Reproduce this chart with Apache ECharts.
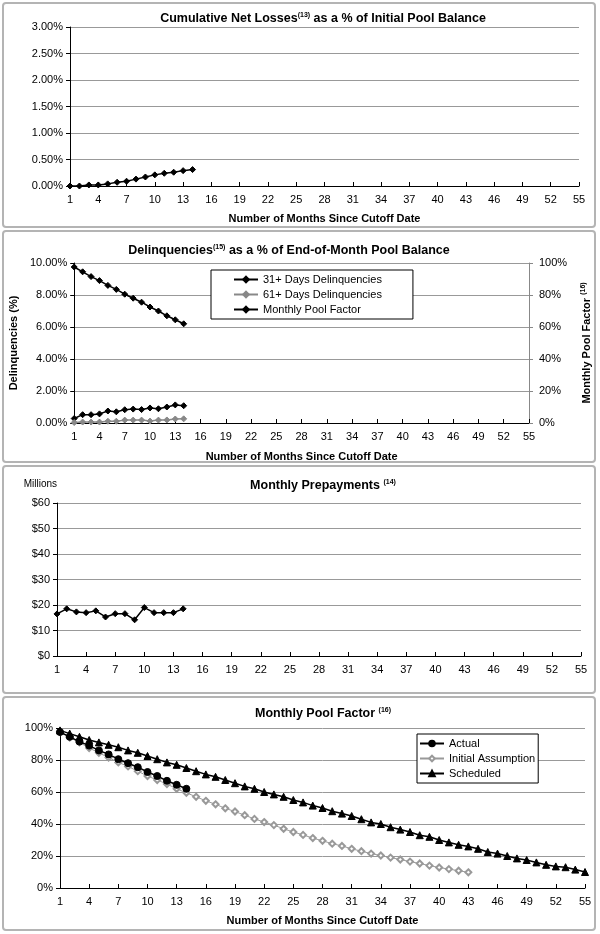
<!DOCTYPE html>
<html><head><meta charset="utf-8">
<script src="https://cdn.jsdelivr.net/npm/echarts@6/dist/echarts.min.js"></script>
<style>html,body{margin:0;padding:0;background:#fff}#c{width:600px;height:934px}</style>
</head><body><div id="c"></div>
<script>
const months = ['1','2','3','4','5','6','7','8','9','10','11','12','13','14','15','16','17','18','19','20',
  '21','22','23','24','25','26','27','28','29','30','31','32','33','34','35','36','37','38','39','40',
  '41','42','43','44','45','46','47','48','49','50','51','52','53','54','55'];

const cumNetLoss = [0.00,0.00,0.02,0.02,0.04,0.07,0.09,0.13,0.17,0.21,0.24,0.26,0.29,0.31];
const delinq31 = [0.28,0.52,0.52,0.57,0.75,0.70,0.83,0.87,0.84,0.94,0.89,1.00,1.13,1.08];
const delinq61 = [0.03,0.06,0.06,0.06,0.11,0.11,0.18,0.18,0.18,0.12,0.18,0.19,0.25,0.26];
const poolFactor = [97.5,94.5,91.5,89,86,83.5,80.5,78,75.5,72.5,70,67,64.5,62];
const prepayments = [16.5,18.5,17.3,17.0,17.7,15.3,16.6,16.6,14.2,19.0,17.0,17.0,17.0,18.5];
const initialAssumption = [97.5,94,91,87.5,84.5,81.5,78.5,76,73,70,67.5,65,62,59.5,57,54.5,52.3,49.8,47.8,45.5,
  43.2,41.2,39.3,37,35,33.2,31.2,29.5,27.7,26.3,24.5,23,21.5,20.3,19,17.8,16.5,15.3,14,12.8,11.8,10.8,9.8];
const scheduled = [98.5,96.5,94.5,92.5,91,89.5,88,86,84.5,82.5,80.5,78.5,77,75,73,71,69.5,67.5,65.5,63.5,
  62,60,58.5,57,55,53.5,51.5,50,48,46.5,45,43,41,40,38,36.5,35,33,32,30,
  28.5,27,26,24.5,22.5,21.5,20,18.5,17.5,16,14.5,13.5,13,11.5,10];

const FONT = "'Liberation Sans', Arial, sans-serif";
const sup = {fontSize: 7, fontWeight: 'bold', fontFamily: FONT, padding: [0,0,6,0]};

function title(text, x, y) {
  return {text, left: x, top: y, textAlign: 'center', padding: 0,
    textStyle: {fontSize: 12.5, fontWeight: 'bold', fontFamily: FONT, color: '#000', rich: {s: sup}}};
}
function xAx(grid, name, gap) {
  return {type: 'category', gridIndex: grid, data: months, boundaryGap: false,
    axisLine: {lineStyle: {color: '#000', width: 1}},
    axisTick: {interval: 2, inside: true, length: 4, lineStyle: {color: '#000'}},
    axisLabel: {interval: 2, fontSize: 11, color: '#000', fontFamily: FONT, margin: 8},
    splitLine: {show: false},
    name: name, nameLocation: 'middle', nameGap: gap || 27,
    nameTextStyle: {fontSize: 11, fontWeight: 'bold', fontFamily: FONT, color: '#000'}};
}
function yAx(grid, min, max, step, fmt, extra) {
  return Object.assign({type: 'value', gridIndex: grid, min, max, interval: step,
    axisLine: {show: true, lineStyle: {color: '#000'}},
    axisTick: {show: true, length: 4, lineStyle: {color: '#000'}},
    axisLabel: {formatter: fmt, fontSize: 11, color: '#000', fontFamily: FONT, margin: 7},
    splitLine: {show: true, lineStyle: {color: '#999', width: 1}}}, extra || {});
}
function line(name, xi, yi, data, opt) {
  const o = opt || {};
  return {name, type: 'line', xAxisIndex: xi, yAxisIndex: yi, data,
    symbol: o.symbol || 'diamond', symbolSize: o.size || 6, showAllSymbol: true,
    lineStyle: {color: o.color || '#000', width: o.width || 1.5},
    itemStyle: {color: o.color || '#000', borderColor: o.border || o.color || '#000', borderWidth: 1},
    animation: false, z: o.z || 2};
}

const chart = echarts.init(document.getElementById('c'));
const border = (y, h) => ({type: 'rect', shape: {x: 3, y: y, width: 592, height: h, r: 3},
  style: {fill: 'none', stroke: '#b4b4b4', lineWidth: 2}, silent: true});

chart.setOption({
  backgroundColor: '#fff',
  animation: false,
  graphic: [border(3, 224), border(231, 231), border(466, 227), border(697, 233)],
  title: [
    title('Cumulative Net Losses{s|(13)} as a % of Initial Pool Balance', 323, 12),
    title('Delinquencies{s|(15)} as a % of End-of-Month Pool Balance', 289, 244),
    title('Monthly Prepayments {s|(14)}', 323, 479),
    title('Monthly Pool Factor {s|(16)}', 323, 707)
  ],
  grid: [
    {left: 70, top: 27, width: 509, height: 159},
    {left: 72, top: 263, width: 464, height: 160},
    {left: 57, top: 503, width: 524, height: 153},
    {left: 60, top: 728, width: 525, height: 160}
  ],
  xAxis: [
    xAx(0, 'Number of Months Since Cutoff Date', 27),
    xAx(1, 'Number of Months Since Cutoff Date', 28),
    xAx(2, ''),
    xAx(3, 'Number of Months Since Cutoff Date', 27)
  ],
  yAxis: [
    yAx(0, 0, 3, 0.5, v => v.toFixed(2) + '%'),
    yAx(1, 0, 10, 2, v => v.toFixed(2) + '%', {name: 'Delinquencies (%)', nameLocation: 'middle', nameGap: 44, nameRotate: 90,
      nameTextStyle: {fontSize: 11, fontWeight: 'bold', fontFamily: FONT, color: '#000'}}),
    yAx(1, 0, 100, 20, v => v + '%', {position: 'right', splitLine: {show: false},
      axisLine: {show: true, lineStyle: {color: '#888'}}, axisTick: {show: true, length: 4, lineStyle: {color: '#888'}},
      axisLabel: {formatter: v => v + '%', fontSize: 11, color: '#000', fontFamily: FONT, margin: 10},
      name: 'Monthly Pool Factor {s|(16)}', nameLocation: 'middle', nameGap: 51, nameRotate: 90,
      nameTextStyle: {fontSize: 11, fontWeight: 'bold', fontFamily: FONT, color: '#000', rich: {s: sup}}}),
    yAx(2, 0, 60, 10, v => '$' + v, {name: 'Millions', nameLocation: 'end', nameGap: 14,
      nameTextStyle: {fontSize: 10, fontFamily: FONT, color: '#000', align: 'right'}}),
    yAx(3, 0, 100, 20, v => v + '%')
  ],
  legend: [
    {data: ['31+ Days Delinquencies', '61+ Days Delinquencies', 'Monthly Pool Factor'],
      orient: 'vertical', left: 211, top: 270, itemWidth: 24, itemHeight: 7, itemGap: 4,
      padding: [4, 31, 4, 22], borderColor: '#000', borderWidth: 1, backgroundColor: '#fff',
      textStyle: {fontSize: 11, fontFamily: FONT, color: '#000'}},
    {data: ['Actual', 'Initial Assumption', 'Scheduled'],
      orient: 'vertical', left: 417, top: 734, itemWidth: 24, itemHeight: 7, itemGap: 4,
      padding: [4, 3, 4, 2], borderColor: '#000', borderWidth: 1, backgroundColor: '#fff',
      textStyle: {fontSize: 11, fontFamily: FONT, color: '#000'}}
  ],
  series: [
    line('Cumulative Net Losses', 0, 0, cumNetLoss),
    line('31+ Days Delinquencies', 1, 1, delinq31),
    line('61+ Days Delinquencies', 1, 1, delinq61, {color: '#888'}),
    line('Monthly Pool Factor', 1, 2, poolFactor),
    line('Monthly Prepayments', 2, 3, prepayments),
    line('Initial Assumption', 3, 4, initialAssumption, {symbol: 'emptyDiamond', color: '#999', border: '#666', width: 1, size: 6, z: 2}),
    line('Scheduled', 3, 4, scheduled, {symbol: 'triangle', size: 7, z: 3}),
    line('Actual', 3, 4, poolFactor, {symbol: 'circle', size: 7, z: 4})
  ]
});
</script>
</body></html>
